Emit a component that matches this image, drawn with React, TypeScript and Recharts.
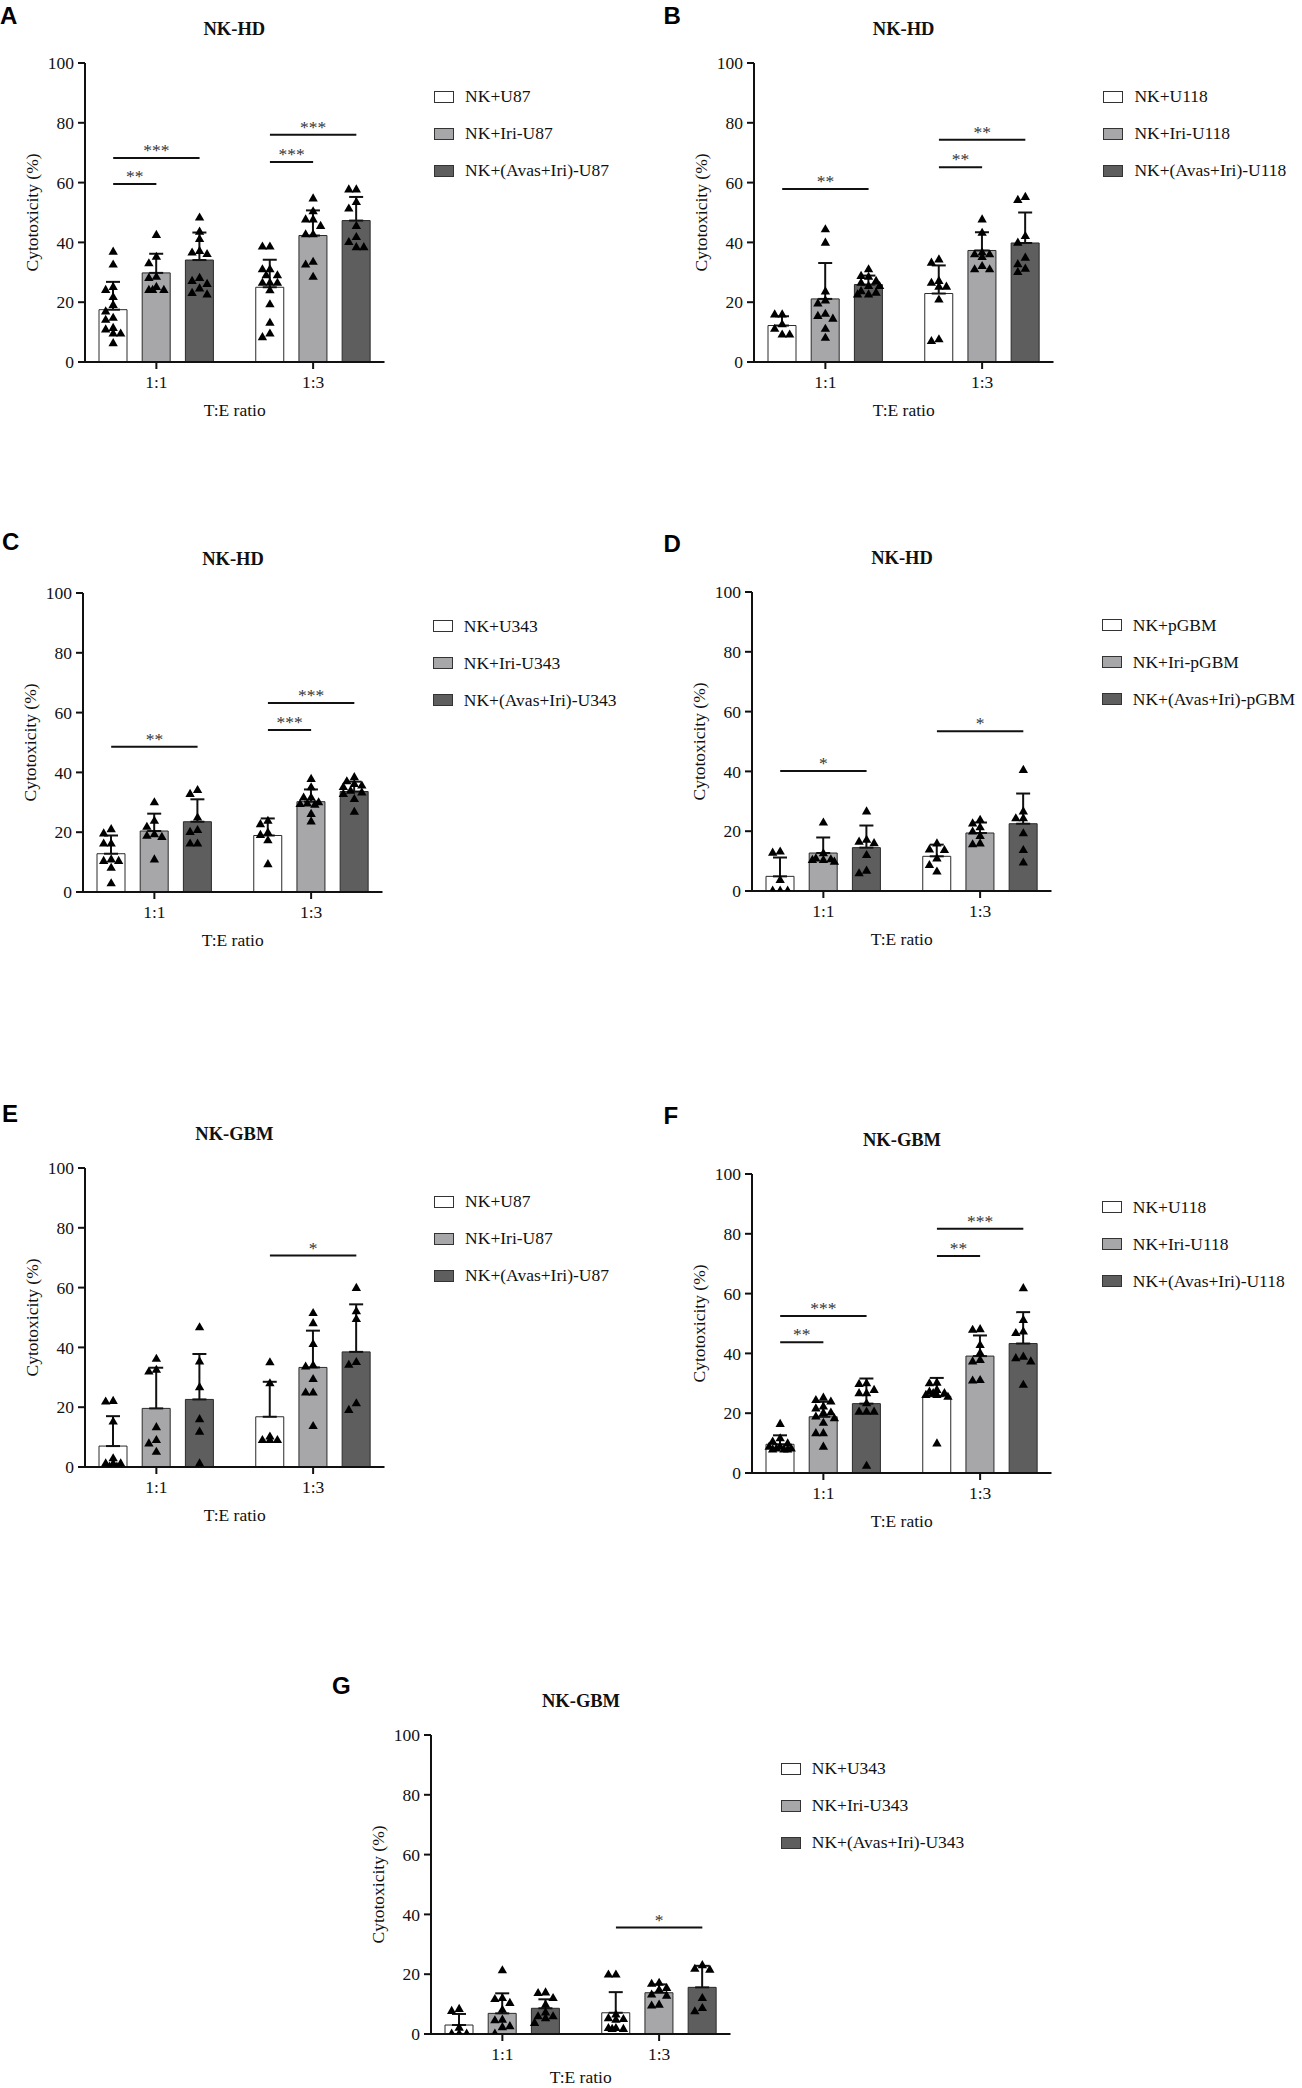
import React from 'react';
import {
  ComposedChart,
  Bar,
  ErrorBar,
  Scatter,
  XAxis,
  YAxis,
  ZAxis,
  ReferenceLine,
  Legend,
} from 'recharts';

const SERIF = '"Liberation Serif", "Times New Roman", serif';
const SANS = '"Liberation Sans", Arial, sans-serif';

const ratios = ['1:1', '1:3'];
const yTicks = [0, 20, 40, 60, 80, 100];
const fills = ['#ffffff', '#a7a7aa', '#5e5e5e'];

// A — NK-HD / U87
const aNames = ['NK+U87', 'NK+Iri-U87', 'NK+(Avas+Iri)-U87'];
const aMeans = [[17.5, 29.8, 34.1], [25.0, 42.3, 47.3]];
const aSds = [[9.3, 6.4, 9.2], [9.2, 8.4, 7.9]];
const aPoints = [
  [
    [36.8, 32.5, 25, 24, 21.6, 19, 16.8, 14.7, 14, 11.3, 10.8, 9.4, 9.4, 6.2],
    [42.4, 35.1, 32.9, 28.4, 28, 24, 24, 24, 25],
    [48.2, 43.5, 41, 37, 36.5, 36, 28, 27, 26, 24.5, 23, 22.5],
  ],
  [
    [38.5, 38.5, 30.9, 30.9, 28.9, 28.9, 26.4, 26.4, 26.4, 23.9, 19.2, 13, 9.4, 8.2],
    [54.6, 50.3, 47.6, 47.6, 45.4, 42.6, 42.6, 33.4, 32.5, 28.4],
    [57.6, 57.6, 53.4, 51.2, 45.4, 41.7, 40, 38.3, 38.3],
  ],
];
const aSig = [
  { g: 0, from: 0, to: 1, y: 59.5, mark: '**' },
  { g: 0, from: 0, to: 2, y: 68.2, mark: '***' },
  { g: 1, from: 0, to: 1, y: 66.9, mark: '***' },
  { g: 1, from: 0, to: 2, y: 76, mark: '***' },
];

// B — NK-HD / U118
const bNames = ['NK+U118', 'NK+Iri-U118', 'NK+(Avas+Iri)-U118'];
const bMeans = [[12.2, 21.1, 25.9], [22.9, 37.3, 39.8]];
const bSds = [[3.1, 12.0, 3.0], [9.4, 6.1, 10.2]];
const bPoints = [
  [
    [15.8, 15.8, 12.5, 9.1, 9.1, 11],
    [44.3, 39.8, 23.5, 20.5, 19.5, 16, 15.3, 14.4, 11, 8],
    [30.9, 28.7, 28.4, 27, 26.4, 25.3, 25.3, 23.6, 23.1, 22.5, 22.5],
  ],
  [
    [34.2, 33.1, 27, 26.4, 25.1, 25.1, 20.8, 7.5, 6.9],
    [47.6, 43.1, 36.5, 35.9, 35.9, 35, 32, 30.9, 30.9],
    [55.1, 54.1, 42, 39.8, 34.8, 32.6, 31.1, 30],
  ],
];
const bSig = [
  { g: 0, from: 0, to: 2, y: 57.9, mark: '**' },
  { g: 1, from: 0, to: 1, y: 65.1, mark: '**' },
  { g: 1, from: 0, to: 2, y: 74.3, mark: '**' },
];

// C — NK-HD / U343
const cNames = ['NK+U343', 'NK+Iri-U343', 'NK+(Avas+Iri)-U343'];
const cMeans = [[12.8, 20.4, 23.5], [18.9, 30.2, 33.6]];
const cSds = [[6.1, 5.8, 7.5], [5.7, 4.1, 3.3]];
const cPoints = [
  [
    [20.9, 19.5, 16.1, 16.1, 10.8, 10.3, 10.3, 8, 2.8],
    [29.9, 23.7, 21.7, 19.2, 18.7, 18.3, 10.8],
    [34, 32.7, 24.8, 20.6, 20, 16.1, 16.1],
  ],
  [
    [23.7, 22.6, 19.8, 19, 17.2, 9.2],
    [37.7, 34.9, 31.5, 31.5, 29.9, 29.5, 29.3, 29.1, 26, 23.5],
    [38.3, 36.9, 36, 35.5, 35, 33.8, 33.2, 32.7, 31, 26.7],
  ],
];
const cSig = [
  { g: 0, from: 0, to: 2, y: 48.6, mark: '**' },
  { g: 1, from: 0, to: 1, y: 54.2, mark: '***' },
  { g: 1, from: 0, to: 2, y: 63.2, mark: '***' },
];

// D — NK-HD / pGBM
const dNames = ['NK+pGBM', 'NK+Iri-pGBM', 'NK+(Avas+Iri)-pGBM'];
const dMeans = [[4.9, 12.7, 14.5], [11.6, 19.4, 22.5]];
const dSds = [[6.3, 5.2, 7.4], [3.9, 3.5, 10.1]];
const dPoints = [
  [
    [13.1, 12.7, 3.6, 0, 0, 0],
    [22.8, 12.5, 10.8, 10.5, 10.3, 10.3, 9.7],
    [26.5, 17, 16.4, 15.9, 11.9, 6.7, 5.8],
  ],
  [
    [15.8, 13.8, 13.6, 10.8, 8.6, 6.4],
    [23.7, 22.5, 21.2, 19.8, 18.3, 15.8, 15.5],
    [40.4, 26.5, 24.2, 24.2, 19.2, 13.6, 9.4],
  ],
];
const dSig = [
  { g: 0, from: 0, to: 2, y: 40.1, mark: '*' },
  { g: 1, from: 0, to: 2, y: 53.4, mark: '*' },
];

// E — NK-GBM / U87
const eNames = ['NK+U87', 'NK+Iri-U87', 'NK+(Avas+Iri)-U87'];
const eMeans = [[7, 19.6, 22.6], [16.8, 33.3, 38.5]];
const eSds = [[10, 13.6, 15.2], [11.7, 12.3, 15.9]];
const ePoints = [
  [
    [22, 21.8, 15.1, 2.8, 1.1, 1.1, 1.1, 0, 0],
    [36.1, 32.4, 31.8, 13.2, 8.9, 7.8, 5],
    [46.6, 35.2, 26.6, 15.9, 11.7, 1.1],
  ],
  [
    [34.9, 27.9, 10.1, 8.9, 8.9, 8.9],
    [51.4, 48, 41, 33.9, 33.5, 29.3, 24.8, 24.8, 13.6],
    [59.8, 52, 49.4, 35, 34.1, 21.2, 19],
  ],
];
const eSig = [{ g: 1, from: 0, to: 2, y: 70.7, mark: '*' }];

// F — NK-GBM / U118
const fNames = ['NK+U118', 'NK+Iri-U118', 'NK+(Avas+Iri)-U118'];
const fMeans = [[9.6, 18.8, 23.2], [25.7, 39.1, 43.3]];
const fSds = [[3, 5, 8.4], [6.1, 6.9, 10.5]];
const fPoints = [
  [
    [16.3, 11.5, 10.4, 9.8, 8.7, 8.7, 8.1, 8.1, 7.8, 7.8, 7.8],
    [25.1, 24.3, 23.8, 22.1, 21.5, 20.1, 20, 18.8, 18.2, 16.7, 13.2, 13.2, 8.7],
    [29.9, 29.7, 27.7, 26.6, 26.6, 23.2, 20.4, 20.4, 20.4, 2.3],
  ],
  [
    [30.1, 29.9, 27.7, 27.1, 26.6, 26.6, 26, 26, 25.4, 9.8],
    [48, 47.8, 42.7, 40, 37.7, 37.2, 31, 30.8],
    [61.7, 51.1, 47.2, 46.7, 38.8, 38.3, 37.2, 29.4],
  ],
];
const fSig = [
  { g: 0, from: 0, to: 1, y: 43.7, mark: '**' },
  { g: 0, from: 0, to: 2, y: 52.5, mark: '***' },
  { g: 1, from: 0, to: 1, y: 72.6, mark: '**' },
  { g: 1, from: 0, to: 2, y: 81.7, mark: '***' },
];

// G — NK-GBM / U343
const gNames = ['NK+U343', 'NK+Iri-U343', 'NK+(Avas+Iri)-U343'];
const gMeans = [[3, 6.9, 8.6], [7.1, 13.8, 15.6]];
const gSds = [[3.7, 6.7, 3], [6.9, 2.8, 7.2]];
const gPoints = [
  [
    [8.3, 7.6, 2, 0, 0, 0],
    [21.2, 11.9, 11.6, 10.3, 8, 4.7, 4.5, 2.5, 2.2, 0],
    [13.8, 13.6, 11.9, 9.7, 7.1, 5.8, 5.8, 5.2, 3.6],
  ],
  [
    [19.8, 19.8, 6.4, 5.2, 4.9, 4.7, 1.9, 1.9, 1.6, 1.6],
    [17, 16.7, 15.3, 14.7, 13.1, 12.7, 9.7, 9.4],
    [22.9, 21.7, 21.4, 11.9, 8.6, 7.5],
  ],
];
const gSig = [{ g: 1, from: 0, to: 2, y: 35.6, mark: '*' }];

// layout
const PLOT_L = 90;
const PLOT_T = 70;
const PLOT_W = 299.5;
const PLOT_H = 299;
const PAD = -7;
const BAR = 28;
const GAP = 15.2;
const BAND = (PLOT_W - 2 * PAD) / 2;
const STEP = (BAR + GAP) / BAND;

// spread points of one bar sideways so triangles don't sit on top of each other
function swarm(vals: number[]): number[] {
  const k = PLOT_H / 100;
  const order = vals.map((_, i) => i).sort((i, j) => vals[j] - vals[i]);
  const cands = [0, -7.5, 7.5, -3.75, 3.75, -11, 11];
  const placed: { y: number; dx: number }[] = [];
  const out = new Array(vals.length).fill(0);
  order.forEach((i) => {
    const y = vals[i] * k;
    let best = 0;
    let bestD = -1;
    for (const c of cands) {
      let minD = Infinity;
      for (const p of placed) {
        minD = Math.min(minD, Math.hypot(p.dx - c, (p.y - y) * 1.1));
      }
      if (minD >= 7.5) {
        best = c;
        break;
      }
      if (minD > bestD) {
        bestD = minD;
        best = c;
      }
    }
    placed.push({ y, dx: best });
    out[i] = best;
  });
  return out;
}

const LegendBox = ({ payload, names }: any) => {
  const items = (payload || [])
    .filter((p: any) => p.type !== 'none' && names.includes(p.value))
    .sort((p: any, q: any) => names.indexOf(p.value) - names.indexOf(q.value));
  return (
    <div>
      {items.map((p: any) => (
        <div key={p.value} style={{ display: 'flex', alignItems: 'center', height: 37 }}>
          <span
            style={{
              display: 'inline-block',
              width: 18,
              height: 10,
              border: '1px solid #333',
              background: p.color,
              marginRight: 11,
            }}
          />
          <span style={{ fontSize: 17.5, fontFamily: SERIF, color: '#111', whiteSpace: 'nowrap' }}>
            {p.value}
          </span>
        </div>
      ))}
    </div>
  );
};

type Sig = { g: number; from: number; to: number; y: number; mark: string };

interface PanelProps {
  letter: string;
  letterX: number;
  letterY: number;
  title: string;
  axisX: number;
  axisY: number;
  names: string[];
  means: number[][];
  sds: number[][];
  points: number[][][];
  sig: Sig[];
  xLabelOffset?: number;
}

const Panel = ({
  letter, letterX, letterY, title, axisX, axisY, names, means, sds, points, sig, xLabelOffset = 12,
}: PanelProps) => {
  const rows = ratios.map((name, g) => ({
    name,
    m0: means[g][0],
    m1: means[g][1],
    m2: means[g][2],
    e0: [0, sds[g][0]],
    e1: [0, sds[g][1]],
    e2: [0, sds[g][2]],
  }));

  const scatterData = names.map((_, b) =>
    ratios.flatMap((__, g) => {
      const vals = points[g][b];
      const dx = swarm(vals);
      return vals.map((v, i) => ({ x: g + 0.5 + (b - 1) * STEP + dx[i] / BAND, y: v }));
    })
  );

  const barX = (g: number, b: number) => g + 0.5 + (b - 1) * STEP;

  return (
    <>
      <div
        style={{
          position: 'absolute',
          left: letterX,
          top: letterY - 3,
          fontFamily: SANS,
          fontWeight: 'bold',
          fontSize: 24,
          lineHeight: 1,
          color: '#000',
        }}
      >
        {letter}
      </div>
      <div
        style={{
          position: 'absolute',
          left: axisX + PLOT_W / 2 - 150,
          width: 300,
          top: axisY - 34 - 9,
          textAlign: 'center',
          fontFamily: SERIF,
          fontWeight: 'bold',
          fontSize: 18.5,
          lineHeight: 1,
          color: '#111',
        }}
      >
        {title}
      </div>
      <div style={{ position: 'absolute', left: axisX - PLOT_L, top: axisY - PLOT_T }}>
        <ComposedChart
          width={PLOT_L + PLOT_W + 240}
          height={PLOT_T + PLOT_H + 60}
          data={rows}
          margin={{ top: PLOT_T, left: 30, right: 240, bottom: 30 }}
          barGap={GAP}
          barSize={BAR}
        >
          <XAxis
            xAxisId="cat"
            dataKey="name"
            padding={{ left: PAD, right: PAD }}
            height={30}
            tickSize={7}
            tickMargin={7}
            axisLine={{ stroke: '#111', strokeWidth: 2 }}
            tickLine={{ stroke: '#111', strokeWidth: 2 }}
            tick={{ fill: '#111', fontSize: 17.5, fontFamily: SERIF }}
            label={{
              value: 'T:E ratio',
              position: 'bottom',
              offset: xLabelOffset,
              fill: '#111',
              fontSize: 17.5,
              fontFamily: SERIF,
            }}
          />
          <XAxis
            xAxisId="num"
            type="number"
            dataKey="x"
            domain={[0, 2]}
            padding={{ left: PAD, right: PAD }}
            allowDataOverflow
            hide
          />
          <YAxis
            width={60}
            domain={[0, 100]}
            ticks={yTicks}
            interval={0}
            allowDataOverflow
            tickSize={7}
            tickMargin={4}
            axisLine={{ stroke: '#111', strokeWidth: 2 }}
            tickLine={{ stroke: '#111', strokeWidth: 2 }}
            tick={{ fill: '#111', fontSize: 17.5, fontFamily: SERIF }}
            label={{
              value: 'Cytotoxicity (%)',
              angle: -90,
              position: 'insideLeft',
              offset: 6.4,
              fill: '#111',
              fontSize: 17.5,
              fontFamily: SERIF,
              style: { textAnchor: 'middle' },
            }}
          />
          <ZAxis range={[38, 38]} />
          {names.map((n, b) => (
            <Bar
              key={n}
              xAxisId="cat"
              dataKey={`m${b}`}
              name={n}
              fill={fills[b]}
              stroke="#2a2a2a"
              strokeWidth={1}
              isAnimationActive={false}
            >
              <ErrorBar
                dataKey={`e${b}`}
                direction="y"
                width={7}
                stroke="#111"
                strokeWidth={2}
                isAnimationActive={false}
              />
            </Bar>
          ))}
          {sig.map((s, i) => (
            <ReferenceLine
              key={i}
              xAxisId="num"
              segment={[
                { x: barX(s.g, s.from), y: s.y },
                { x: barX(s.g, s.to), y: s.y },
              ]}
              stroke="#111"
              strokeWidth={2}
              label={{ value: s.mark, position: 'top', offset: 2, fill: '#333', fontSize: 17.5, fontFamily: SERIF }}
            />
          ))}
          {names.map((n, b) => (
            <Scatter
              key={`s${n}`}
              xAxisId="num"
              data={scatterData[b]}
              dataKey="y"
              shape="triangle"
              fill="#000"
              legendType="none"
              isAnimationActive={false}
            />
          ))}
          <Legend
            layout="vertical"
            align="center"
            verticalAlign="middle"
            content={<LegendBox names={names} />}
            wrapperStyle={{ left: PLOT_L + PLOT_W + 50, top: PLOT_T + 33.4 - 18.5, width: 230 }}
          />
        </ComposedChart>
      </div>
    </>
  );
};

export default function App() {
  return (
    <div
      style={{
        position: 'absolute',
        left: 0,
        top: 0,
        width: 1302,
        height: 2088,
        background: '#fff',
        overflow: 'hidden',
        fontFamily: SERIF,
      }}
    >
      <Panel letter="A" letterX={0} letterY={7} title="NK-HD" axisX={84.6} axisY={63.3}
        names={aNames} means={aMeans} sds={aSds} points={aPoints} sig={aSig} />
      <Panel letter="B" letterX={663.5} letterY={7} title="NK-HD" axisX={753.9} axisY={63.3}
        names={bNames} means={bMeans} sds={bSds} points={bPoints} sig={bSig} />
      <Panel letter="C" letterX={2} letterY={533} title="NK-HD" axisX={83.3} axisY={592.7}
        names={cNames} means={cMeans} sds={cSds} points={cPoints} sig={cSig} />
      <Panel letter="D" letterX={663.5} letterY={535} title="NK-HD" axisX={752.3} axisY={592}
        names={dNames} means={dMeans} sds={dSds} points={dPoints} sig={dSig} />
      <Panel letter="E" letterX={2} letterY={1105} title="NK-GBM" axisX={84.6} axisY={1168.3}
        names={eNames} means={eMeans} sds={eSds} points={ePoints} sig={eSig} />
      <Panel letter="F" letterX={663.5} letterY={1107} title="NK-GBM" axisX={752.3} axisY={1174}
        names={fNames} means={fMeans} sds={fSds} points={fPoints} sig={fSig} />
      <Panel letter="G" letterX={332} letterY={1677} title="NK-GBM" axisX={431.3} axisY={1735.3}
        names={gNames} means={gMeans} sds={gSds} points={gPoints} sig={gSig} xLabelOffset={7} />
    </div>
  );
}
